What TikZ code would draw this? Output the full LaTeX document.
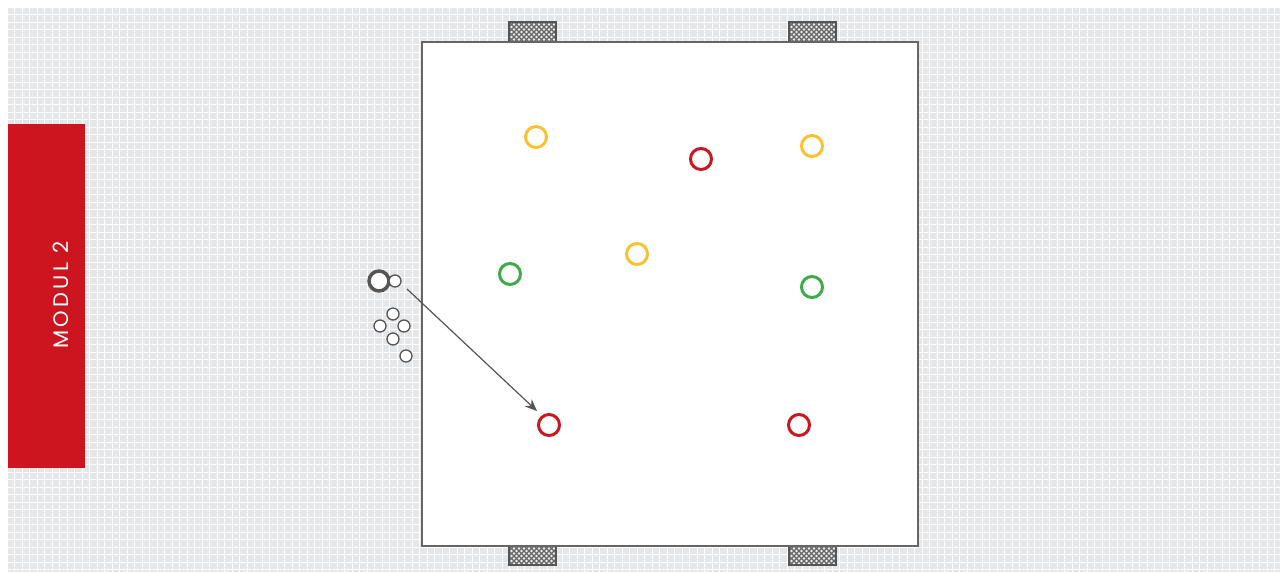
\documentclass[tikz,border=0pt]{standalone}
\usepackage{fontspec}
\setsansfont{Poppins}
\usetikzlibrary{arrows.meta}
\definecolor{gridbg}{HTML}{E5E6E8}
\definecolor{modred}{HTML}{CC151E}
\definecolor{cyel}{HTML}{FBC12E}
\definecolor{cred}{HTML}{CC151E}
\definecolor{cgreen}{HTML}{3FAA48}
\definecolor{dgrey}{HTML}{555555}
\tikzset{
  cone/.style={circle, draw=#1, line width=3pt, minimum size=21pt, inner sep=0pt},
  plr/.style={circle, draw=dgrey, line width=1.3pt, fill=white, minimum size=12pt, inner sep=0pt},
  bigplr/.style={circle, draw=dgrey, line width=3.5pt, fill=white, minimum size=20pt, inner sep=0pt},
  goalline/.style={draw=dgrey, line width=1.6pt},
  hatch/.style={draw=dgrey!90, line width=1.1pt},
}
\newcommand{\goalnet}[4]{% x1 y1 x2 y2
  \fill[gray!15] (#1,#2) rectangle (#3,#4);
  \begin{scope}
    \clip (#1,#2) rectangle (#3,#4);
    \foreach \k in {-30,...,20} {
      \draw[hatch] ({#1+5*\k},#2) -- ({#1+5*\k+30},{#2+30});
      \draw[hatch] ({#1+5*\k},{#2+30}) -- ({#1+5*\k+30},#2);
    }
  \end{scope}
}
\begin{document}
\begin{tikzpicture}[x=1pt,y=-1pt]
\useasboundingbox (0,0) rectangle (1283,573);
\fill[white] (0,0) rectangle (1283,573);
\fill[gridbg] (8,8) rectangle (1280,572);
\begin{scope}
\clip (8,8) rectangle (1280,572);
\foreach \i in {0,...,170} {
  \draw[white, line width=1.2pt] ({8+7.5*\i+6.8},8) -- ({8+7.5*\i+6.8},572);
}
\foreach \j in {0,...,76} {
  \draw[white, line width=1.2pt] (8,{8+7.5*\j+6.8}) -- (1280,{8+7.5*\j+6.8});
}
\end{scope}
% label
\fill[modred] (8,124) rectangle (85,468);
\node[rotate=90, text=white, font=\sffamily\fontsize{21}{21}\selectfont] (lbl) at (61,295) {M\,O\,D\,U\,L\, 2};
% goals
\goalnet{509}{22}{556}{42}
\draw[goalline] (509,42) -- (509,22) -- (556,22) -- (556,42);
\goalnet{789}{22}{836}{42}
\draw[goalline] (789,42) -- (789,22) -- (836,22) -- (836,42);
\goalnet{509}{546}{556}{565}
\draw[goalline] (509,546) -- (509,565) -- (556,565) -- (556,546);
\goalnet{789}{546}{836}{565}
\draw[goalline] (789,546) -- (789,565) -- (836,565) -- (836,546);
% field
\draw[fill=white, draw=dgrey!90, line width=1.6pt] (422,42) rectangle (918,546);
% cones
\node[cone=cyel] (y1) at (536,137) {};
\node[cone=cyel] (y2) at (812,146) {};
\node[cone=cyel] (y3) at (637,254) {};
\node[cone=cred] (r1) at (701,159) {};
\node[cone=cred] (r2) at (549,425) {};
\node[cone=cred] (r3) at (799,425) {};
\node[cone=cgreen] (g1) at (510,274) {};
\node[cone=cgreen] (g2) at (812,287) {};
% players
\node[bigplr] (p0) at (379,281) {};
\node[plr] (p1) at (395,281) {};
\node[plr] (p2) at (393,314) {};
\node[plr] (p3) at (380,326) {};
\node[plr] (p4) at (404,326) {};
\node[plr] (p5) at (393,339) {};
\node[plr] (p6) at (406,356) {};
\coordinate (s) at (407,289);
\draw[dgrey, line width=1.2pt, -{Stealth[length=12pt,width=10pt,inset=4pt]}] (s) -- (537,411);
\end{tikzpicture}
\end{document}
